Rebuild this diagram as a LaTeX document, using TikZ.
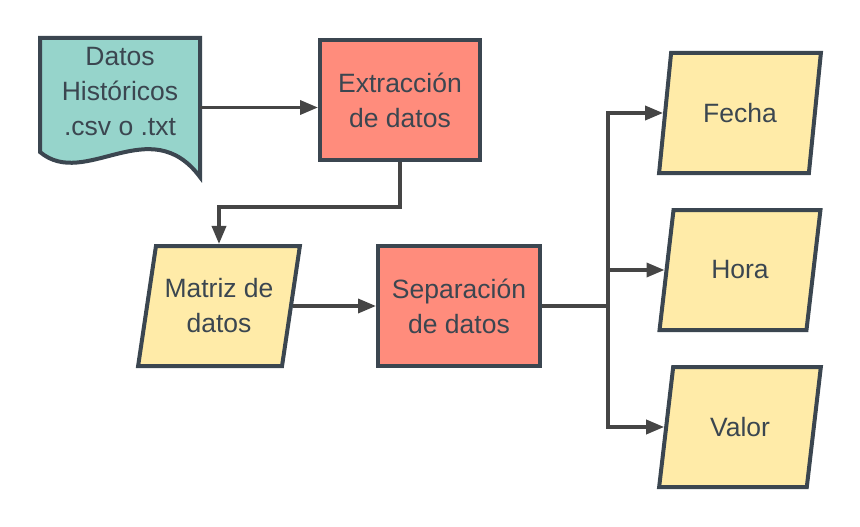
\documentclass[tikz,border=0pt]{standalone}
\usepackage{fontspec}
\setmainfont{Liberation Sans}
\usetikzlibrary{positioning,arrows.meta,shapes.geometric,calc}
\definecolor{borde}{HTML}{3B4650}
\definecolor{flecha}{HTML}{454545}
\definecolor{verdeagua}{HTML}{96D4CB}
\definecolor{salmon}{HTML}{FF8C7C}
\definecolor{amarillo}{HTML}{FFEBA8}

\begin{document}
\begin{tikzpicture}[
  x=1pt, y=-1pt,
  >={Triangle[length=18pt,width=14pt]},
  every node/.style={font=\fontsize{26.5}{35}\selectfont, text=borde, align=center},
  proc/.style={draw=borde, line width=4pt, fill=salmon,
               minimum width=160pt, minimum height=120pt},
  dat/.style={trapezium, trapezium left angle=75, trapezium right angle=105,
              trapezium stretches=true, draw=borde, line width=4pt, fill=amarillo,
              minimum width=162pt, minimum height=120pt},
  flujo/.style={->, draw=flecha, line width=3.5pt}
]
\useasboundingbox (0,0) rectangle (860,527);

% --- Source document ---
\node[inner sep=0pt, outer sep=0pt, minimum width=160pt, minimum height=139pt]
  (hist) at (120,107.5) {};
\draw[draw=borde, line width=4pt, fill=verdeagua]
  (hist.north west) -- (hist.north east) -- (hist.south east)
  .. controls (150,110) and (85,190) .. (40,152) -- cycle;
\node (histtxt) at (120,92) {Datos\\Históricos\\.csv o .txt};

% --- Processes ---
\node[proc] (extr) at (400,100) {Extracción\\de datos};
\node[proc, minimum width=162pt] (sep) at (459,306) {Separación\\de datos};

% --- Data ---
\node[dat] (matriz) at (219,306) {Matriz de\\datos};
\node[dat] (fecha) at (740,113) {Fecha};
\node[dat] (hora) at (740,270) {Hora};
\node[dat] (valor) at (740,427) {Valor};

% --- Flow ---
\draw[flujo] (hist.east) -- (hist.east -| extr.west);
\draw[flujo] (extr.south) -- ++(0,45) -| (matriz.north -| matriz.center);
\draw[flujo] (matriz.east) -- (matriz.east -| sep.west);

% --- Split into fields ---
\coordinate (split) at (608,306);
\draw[draw=flecha, line width=3.5pt] (sep.east) -- (split);
\draw[flujo] (split) |- (fecha.west);
\draw[flujo] (split) |- (hora.west);
\draw[flujo] (split) |- (valor.west);

\end{tikzpicture}
\end{document}
